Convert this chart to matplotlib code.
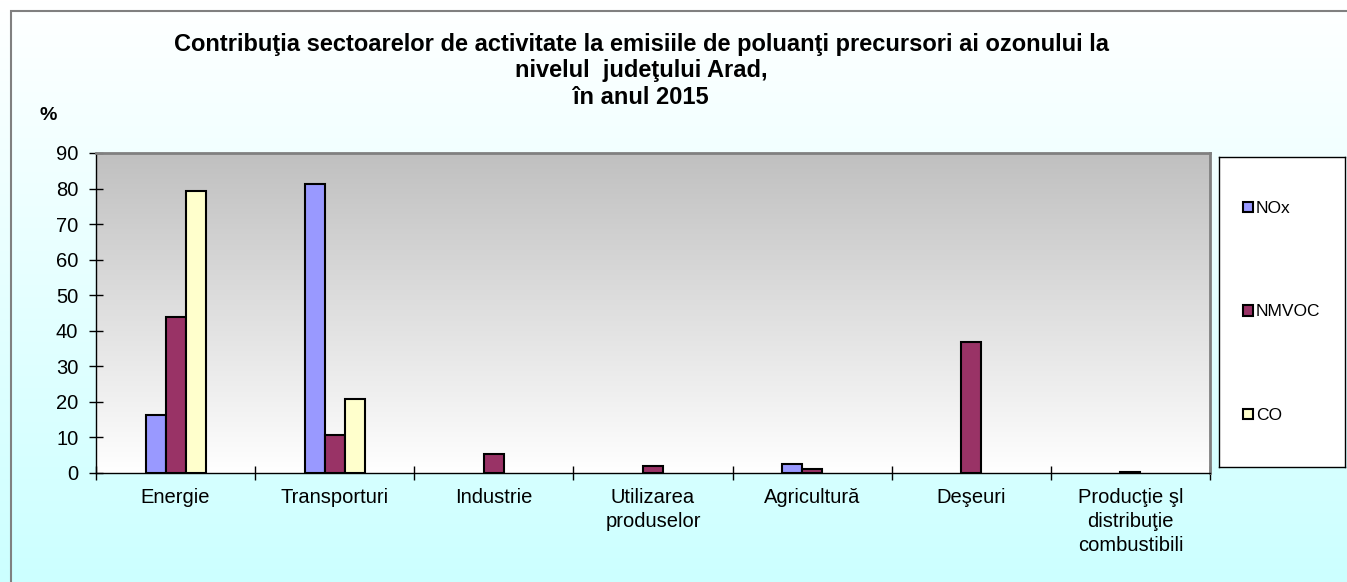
import numpy as np
import matplotlib
matplotlib.use("Agg")
import matplotlib.pyplot as plt
from matplotlib.patches import Rectangle
from matplotlib.colors import LinearSegmentedColormap

plt.rcParams['font.family'] = ['Liberation Sans', 'DejaVu Sans']

categories = ["Energie", "Transporturi", "Industrie", "Utilizarea\nproduselor",
              "Agricultură", "Deşeuri", "Producţie şl\ndistribuţie\ncombustibili"]
series_names = ["NOx", "NMVOC", "CO"]
nox = [16.3, 81.3, 0.0, 0.0, 2.5, 0.0, 0.0]
nmvoc = [43.9, 10.7, 5.3, 1.9, 1.0, 36.8, 0.4]
co = [79.3, 20.8, 0.0, 0.0, 0.0, 0.0, 0.0]
colors = ["#9999ff", "#993366", "#ffffcc"]
yticks = [0, 10, 20, 30, 40, 50, 60, 70, 80, 90]

title = ("Contribuţia sectoarelor de activitate la emisiile de poluanţi precursori ai ozonului la\n"
         "nivelul  judeţului Arad,\n"
         "în anul 2015")

W, H = 1347, 582
fig = plt.figure(figsize=(W / 100, H / 100), dpi=100)

# figure background gradient (white -> light cyan)
bg = fig.add_axes([0, 0, 1, 1], zorder=-10)
bg.set_axis_off()
grad = np.linspace(0, 1, 256).reshape(-1, 1)
cm_bg = LinearSegmentedColormap.from_list("bg", ["#ffffff", "#ccffff"])
bg.imshow(grad, aspect="auto", cmap=cm_bg, extent=[0, 1, 0, 1], origin="upper")
bg.set_xlim(0, 1)
bg.set_ylim(0, 1)
bg.add_patch(Rectangle((11 / W, -0.1), 1.2, (H - 11) / H + 0.1, fill=False,
                       edgecolor="#808080", linewidth=1.5, transform=bg.transAxes))

# main axes
L, R, T, B = 96, 1210, 153, 473
ax = fig.add_axes([L / W, (H - B) / H, (R - L) / W, (B - T) / H])
cm_pa = LinearSegmentedColormap.from_list("pa", ["#c0c0c0", "#ffffff"])
ax.imshow(grad, aspect="auto", cmap=cm_pa, extent=[0, 1, 0, 1], origin="upper",
          transform=ax.transAxes, zorder=0)

x = np.arange(len(categories))
w = 20 / 159
for i, (vals, c) in enumerate(zip([nox, nmvoc, co], colors)):
    v = np.asarray(vals, dtype=float)
    v = np.where(v > 0, v, np.nan)  # zero values are not drawn
    ax.bar(x + (i - 1) * w, v, width=w, color=c, edgecolor="black",
           linewidth=1.5, label=series_names[i], zorder=3)

ax.set_xlim(-0.5, len(categories) - 0.5)
ax.set_ylim(0, 90)
ax.set_yticks(yticks)
ax.set_xticks(x)
ax.set_xticklabels(categories, fontsize=14.5, linespacing=1.33)
ax.set_xticks(np.arange(-0.5, len(categories)), minor=True)
ax.tick_params(axis="x", which="major", length=0, pad=11)
ax.tick_params(axis="x", which="minor", direction="inout", length=9.4, width=1)
ax.tick_params(axis="y", direction="inout", length=9.4, width=1, labelsize=14.5, pad=8)

for s in ["left", "bottom"]:
    ax.spines[s].set_color("black")
    ax.spines[s].set_linewidth(1)
for s in ["top", "right"]:
    ax.spines[s].set_color("#808080")
    ax.spines[s].set_linewidth(2)

fig.text(48 / W, 1 - 116 / H, "%", fontsize=14, fontweight="bold", ha="center", va="center")
fig.text(641 / W, 1 - 71 / H, title, fontsize=17, fontweight="bold", ha="center",
         va="center", linespacing=1.22, multialignment="center")

# legend box
lx0, lx1, ly0, ly1 = 1219, 1345, 157, 467
lax = fig.add_axes([lx0 / W, (H - ly1) / H, (lx1 - lx0) / W, (ly1 - ly0) / H])
lax.set_facecolor("white")
lax.set_xticks([])
lax.set_yticks([])
for s in lax.spines.values():
    s.set_color("black")
    s.set_linewidth(1)
handles, labels = ax.get_legend_handles_labels()
lax.legend(handles, labels, loc="center left", bbox_to_anchor=(24 / 126, 0.5),
           frameon=False, fontsize=12.5, handlelength=0.55, handleheight=0.55,
           handletextpad=0.2, labelspacing=5.1, borderpad=0, borderaxespad=0)

fig.savefig("out.png", dpi=100)
